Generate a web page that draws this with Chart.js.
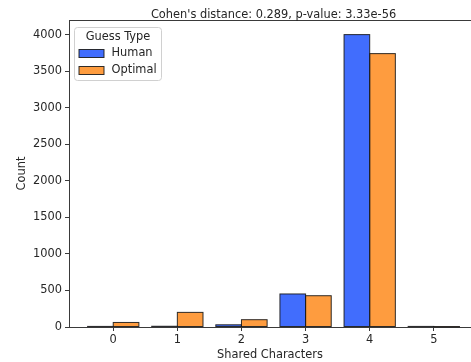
<!DOCTYPE html>
<html>
<head>
<meta charset="utf-8">
<script src="https://cdn.jsdelivr.net/npm/chart.js@4/dist/chart.umd.min.js"></script>
<style>
  html, body { margin: 0; padding: 0; background: #fff; overflow: hidden; }
  #wrap { width: 471px; height: 362px; position: relative; }
</style>
</head>
<body>
<div id="wrap"><canvas id="c" width="471" height="362"></canvas></div>
<script>
// Shared characters between guess and answer (x categories)
const categories = [0, 1, 2, 3, 4, 5];
// Counts per category for each guess type
const humanCounts = [8, 10, 30, 452, 4000, 8];
const optimalCounts = [62, 200, 100, 428, 3740, 2];
// Y tick values
const yTicks = [0, 500, 1000, 1500, 2000, 2500, 3000, 3500, 4000];

const titleText = "Cohen's distance: 0.289, p-value: 3.33e-56";
const legendTitle = 'Guess Type';

const FONT = 'DejaVu Sans';
const TXT = '#262626';
const AXIS = '#3a3a3a';
const EDGE = 'rgba(25,25,25,0.9)';

// Bar outlines centred on each bar's boundary (so very short bars still show as a line)
const edgePlugin = {
  id: 'barEdges',
  afterDatasetsDraw(chart) {
    const { ctx } = chart;
    ctx.save();
    ctx.strokeStyle = EDGE;
    ctx.lineWidth = 1;
    chart.data.datasets.forEach((ds, di) => {
      chart.getDatasetMeta(di).data.forEach(bar => {
        const { x, y, base, width } = bar.getProps(['x', 'y', 'base', 'width'], true);
        const left = x - width / 2;
        ctx.strokeRect(left, Math.min(y, base), width, Math.abs(base - y));
      });
    });
    ctx.restore();
  }
};

// Top spine plus the header line above the axes
const framePlugin = {
  id: 'frame',
  afterDraw(chart) {
    const { ctx, chartArea: a, scales: { x } } = chart;
    ctx.save();
    ctx.strokeStyle = AXIS;
    ctx.lineWidth = 1;
    ctx.beginPath();
    ctx.moveTo(a.left, a.top + 0.5);
    ctx.lineTo(a.right, a.top + 0.5);
    ctx.stroke();
    // title centred over the full axes span
    const cx = x.getPixelForValue((x.min + 5.69) / 2);
    ctx.fillStyle = TXT;
    ctx.font = `11.4px "${FONT}"`;
    ctx.textAlign = 'center';
    ctx.textBaseline = 'alphabetic';
    ctx.fillText(titleText, cx, a.top - 2.5);
    ctx.restore();
  }
};

// Legend box inside the upper-left corner of the axes
const legendPlugin = {
  id: 'boxLegend',
  afterDraw(chart) {
    const { ctx, chartArea: a } = chart;
    const bx = a.left + 5.5, by = a.top + 7.5, bw = 87, bh = 53, r = 3;
    ctx.save();
    ctx.fillStyle = 'rgba(255,255,255,0.85)';
    ctx.strokeStyle = '#d0d0d0';
    ctx.lineWidth = 1;
    ctx.beginPath();
    ctx.roundRect(bx, by, bw, bh, r);
    ctx.fill();
    ctx.stroke();
    ctx.font = `11.4px "${FONT}"`;
    ctx.fillStyle = TXT;
    ctx.textBaseline = 'middle';
    ctx.textAlign = 'center';
    ctx.fillText(legendTitle, bx + bw / 2, by + 9.5);
    ctx.textAlign = 'left';
    chart.data.datasets.forEach((ds, i) => {
      const cy = by + 26 + i * 17;
      ctx.fillStyle = ds.backgroundColor;
      ctx.fillRect(bx + 4.5, cy - 4, 25, 8);
      ctx.strokeStyle = EDGE;
      ctx.strokeRect(bx + 4.5, cy - 4, 25, 8);
      ctx.fillStyle = TXT;
      ctx.fillText(ds.label, bx + 37, cy);
    });
    ctx.restore();
  }
};

const toPoints = arr => arr.map((v, i) => ({ x: categories[i], y: v }));

new Chart(document.getElementById('c'), {
  type: 'bar',
  data: {
    datasets: [
      {
        label: 'Human',
        data: toPoints(humanCounts),
        backgroundColor: '#416dfd',
        borderWidth: 0
      },
      {
        label: 'Optimal',
        data: toPoints(optimalCounts),
        backgroundColor: '#fe9c3f',
        borderWidth: 0
      }
    ]
  },
  options: {
    responsive: false,
    animation: false,
    barPercentage: 1,
    categoryPercentage: 0.8,
    layout: { padding: { top: 20, left: 0, right: 0, bottom: 0 } },
    plugins: {
      legend: { display: false },
      title: { display: false },
      tooltip: { enabled: false }
    },
    scales: {
      x: {
        type: 'linear',
        offset: false,
        min: -0.69,
        max: 5.58,
        afterBuildTicks: s => { s.ticks = categories.map(v => ({ value: v })); },
        afterFit: s => { s.height = 35; },
        grid: { display: true, offset: false, drawOnChartArea: false, drawTicks: true, tickLength: 4, color: AXIS },
        border: { display: true, color: AXIS, width: 1 },
        ticks: { color: TXT, font: { family: FONT, size: 11.4 }, padding: 2, maxRotation: 0, callback: v => String(v) },
        title: { display: true, text: 'Shared Characters', color: TXT, font: { family: FONT, size: 11.4 }, padding: { top: 1, bottom: 0 } }
      },
      y: {
        type: 'linear',
        min: 0,
        max: 4200,
        afterBuildTicks: s => { s.ticks = yTicks.map(v => ({ value: v })); },
        afterFit: s => { s.width = 69; },
        grid: { display: true, drawOnChartArea: false, drawTicks: true, tickLength: 4, color: AXIS },
        border: { display: true, color: AXIS, width: 1 },
        ticks: { color: TXT, font: { family: FONT, size: 11.4 }, padding: 3, callback: v => String(v) },
        title: { display: true, text: 'Count', color: TXT, font: { family: FONT, size: 11.4 }, padding: { top: 15, bottom: 0 } }
      }
    }
  },
  plugins: [edgePlugin, framePlugin, legendPlugin]
});
</script>
</body>
</html>
